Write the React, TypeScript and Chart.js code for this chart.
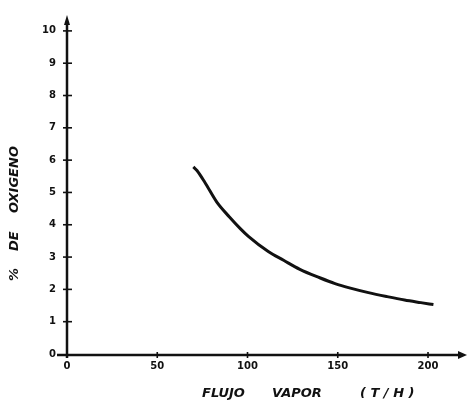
import { useEffect, useRef } from "react";
import { Chart, registerables } from "chart.js";

Chart.register(...registerables);

// Data
const flujoVapor = [70, 72, 76.5, 83, 90, 96, 100.5, 111.5, 120, 129, 140, 148.5, 157, 167, 177, 187, 196, 203];
const oxigeno = [5.79, 5.68, 5.3, 4.7, 4.24, 3.88, 3.64, 3.17, 2.9, 2.62, 2.36, 2.18, 2.04, 1.9, 1.78, 1.67, 1.59, 1.53];

const xTickValues = [0, 50, 100, 150, 200];
const yTickValues = [0, 1, 2, 3, 4, 5, 6, 7, 8, 9, 10];
const xTitleWords = ["FLUJO", "VAPOR", "( T / H )"];
const yTitleWords = ["%", "DE", "OXIGENO"];

const X_MAX = 221.6;
const Y_MAX = 10.43;
const INK = "#111";

const axesPlugin = {
  id: "handAxes",
  afterDraw(chart: any) {
    const ctx = chart.ctx as CanvasRenderingContext2D;
    const xs = chart.scales.x;
    const ys = chart.scales.y;
    const area = chart.chartArea;
    const x0 = xs.getPixelForValue(0);
    const y0 = ys.getPixelForValue(0) + 1;
    ctx.save();
    ctx.strokeStyle = INK;
    ctx.fillStyle = INK;
    ctx.lineCap = "butt";
    // x axis
    ctx.lineWidth = 2.5;
    ctx.beginPath();
    ctx.moveTo(x0 - 10, y0);
    ctx.lineTo(area.right - 7, y0);
    ctx.stroke();
    ctx.beginPath();
    ctx.moveTo(area.right, y0);
    ctx.lineTo(area.right - 9, y0 - 4);
    ctx.lineTo(area.right - 9, y0 + 4);
    ctx.closePath();
    ctx.fill();
    // y axis
    ctx.beginPath();
    ctx.moveTo(x0, y0 + 3);
    ctx.lineTo(x0, area.top + 6);
    ctx.stroke();
    ctx.beginPath();
    ctx.moveTo(x0, area.top - 2);
    ctx.lineTo(x0 - 3, area.top + 8);
    ctx.lineTo(x0 + 3, area.top + 8);
    ctx.closePath();
    ctx.fill();
    // ticks
    ctx.lineWidth = 1.6;
    for (const v of yTickValues) {
      if (v === 0) continue;
      const py = ys.getPixelForValue(v);
      ctx.beginPath();
      ctx.moveTo(x0 - 4, py);
      ctx.lineTo(x0 + 5, py);
      ctx.stroke();
    }
    for (const v of xTickValues) {
      if (v === 0) continue;
      const px = xs.getPixelForValue(v);
      ctx.beginPath();
      ctx.moveTo(px, y0 - 3);
      ctx.lineTo(px, y0 + 3);
      ctx.stroke();
    }
    // titles
    ctx.font = "italic bold 13px 'DejaVu Sans'";
    ctx.textBaseline = "alphabetic";
    ctx.textAlign = "left";
    const xStarts = [202, 272, 360];
    xTitleWords.forEach((w, i) => {
      ctx.fillText(w, xStarts[i], 397);
    });
    const yStarts = [281, 251, 213];
    yTitleWords.forEach((w, i) => {
      ctx.save();
      ctx.translate(18, yStarts[i]);
      ctx.rotate(-Math.PI / 2);
      ctx.fillText(w, 0, 0);
      ctx.restore();
    });
    ctx.restore();
  },
};

export default function App() {
  const ref = useRef<HTMLCanvasElement | null>(null);
  useEffect(() => {
    if (!ref.current) return;
    const chart = new Chart(ref.current, {
      type: "line",
      data: {
        datasets: [
          {
            data: flujoVapor.map((x, i) => ({ x, y: oxigeno[i] })),
            borderColor: INK,
            borderWidth: 3,
            pointRadius: 0,
            fill: false,
            cubicInterpolationMode: "monotone",
          },
        ],
      },
      options: {
        animation: false,
        responsive: false,
        devicePixelRatio: 1,
        layout: { padding: { top: 12, right: 1, left: 0, bottom: 0 } },
        plugins: { legend: { display: false }, tooltip: { enabled: false } },
        scales: {
          x: {
            type: "linear",
            min: 0,
            max: X_MAX,
            grid: { display: false, drawTicks: false },
            border: { display: false },
            afterBuildTicks: (s: any) => {
              s.ticks = xTickValues.map((v) => ({ value: v }));
            },
            afterFit: (s: any) => {
              s.height = 49;
            },
            ticks: {
              padding: 6,
              maxRotation: 0,
              autoSkip: false,
              color: INK,
              font: { family: "'DejaVu Sans'", weight: "bold", size: 10 },
            },
          },
          y: {
            type: "linear",
            min: 0,
            max: Y_MAX,
            grid: { display: false, drawTicks: false },
            border: { display: false },
            afterBuildTicks: (s: any) => {
              s.ticks = yTickValues.map((v) => ({ value: v }));
            },
            afterFit: (s: any) => {
              s.width = 67;
            },
            ticks: {
              padding: 11,
              autoSkip: false,
              color: INK,
              font: { family: "'DejaVu Sans'", weight: "bold", size: 10 },
            },
          },
        },
      },
      plugins: [axesPlugin],
    } as any);
    return () => chart.destroy();
  }, []);
  return (
    <div style={{ position: "fixed", left: 0, top: 0, width: 468, height: 403, background: "#fff" }}>
      <canvas ref={ref} width={468} height={403} />
    </div>
  );
}
